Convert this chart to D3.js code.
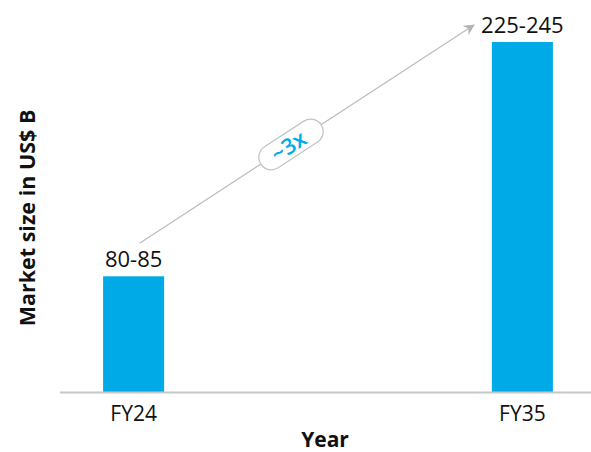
<!DOCTYPE html>
<html>
<head>
<meta charset="utf-8">
<script src="https://cdn.jsdelivr.net/npm/d3@7"></script>
<style>
  body { margin: 0; background: #fff; }
  text { font-family: "Open Sans", sans-serif; }
</style>
</head>
<body>
<svg width="591" height="452"></svg>
<script>
const width = 591;
const height = 452;

// chart data
const years = ["FY24", "FY35"];
const marketSize = [80, 242];
const rangeLabels = ["80-85", "225-245"];
const growthLabel = "~3x";

const svg = d3.select("svg");

const x = d3.scaleBand()
  .domain(years)
  .range([65, 591])
  .paddingInner(0.843)
  .paddingOuter(0.098);

const y = d3.scaleLinear()
  .domain([0, 242])
  .range([392, 42]);

const data = years.map((d, i) => ({ year: d, value: marketSize[i], label: rangeLabels[i] }));

// bars
svg.selectAll("rect.bar")
  .data(data)
  .enter().append("rect")
  .attr("class", "bar")
  .attr("x", d => x(d.year))
  .attr("y", d => y(d.value))
  .attr("width", x.bandwidth())
  .attr("height", d => y(0) - y(d.value))
  .style("fill", "#00aae6");

// baseline
svg.append("line")
  .attr("x1", 60).attr("x2", 591)
  .attr("y1", y(0) + 0.5).attr("y2", y(0) + 0.5)
  .style("stroke", "#c8c8c8")
  .style("stroke-width", 2);

// value labels
svg.selectAll("text.value")
  .data(data)
  .enter().append("text")
  .attr("class", "value")
  .attr("x", d => x(d.year) + x.bandwidth() / 2)
  .attr("y", d => y(d.value) - 9)
  .attr("text-anchor", "middle")
  .text(d => d.label)
  .style("font-size", "22px")
  .style("fill", "#111");

// x tick labels
svg.selectAll("text.tick")
  .data(data)
  .enter().append("text")
  .attr("class", "tick")
  .attr("x", d => x(d.year) + x.bandwidth() / 2)
  .attr("y", 421)
  .attr("text-anchor", "middle")
  .text(d => d.year)
  .style("font-size", "21px")
  .style("fill", "#111");

// axis titles
svg.append("text")
  .attr("x", 325).attr("y", 447)
  .attr("text-anchor", "middle")
  .text("Year")
  .style("font-size", "21px")
  .style("font-weight", "bold")
  .style("fill", "#111");

svg.append("text")
  .attr("transform", "translate(35,218) rotate(-90)")
  .attr("text-anchor", "middle")
  .text("Market size in US$ B")
  .style("font-size", "21.5px")
  .style("font-weight", "bold")
  .style("fill", "#111");

// growth arrow
const defs = svg.append("defs");
defs.append("marker")
  .attr("id", "arrow")
  .attr("viewBox", "0 0 10 10")
  .attr("refX", 9).attr("refY", 5)
  .attr("markerWidth", 11).attr("markerHeight", 11)
  .attr("markerUnits", "userSpaceOnUse")
  .attr("orient", "auto")
  .append("path")
  .attr("d", "M0,0 L10,5 L0,10 L3,5 Z")
  .style("fill", "#b4b4b4");

const x0 = x("FY24") + x.bandwidth() / 2 + 6, y0 = y(marketSize[0]) - 33;
const x1 = x("FY35") - 18, y1 = 25;

svg.append("line")
  .attr("x1", x0).attr("y1", y0)
  .attr("x2", x1).attr("y2", y1)
  .style("stroke", "#bdbdbd")
  .style("stroke-width", 1.3)
  .attr("marker-end", "url(#arrow)");

const angle = Math.atan2(y1 - y0, x1 - x0) * 180 / Math.PI;
const cx = 291, cy = y0 + (cx - x0) * (y1 - y0) / (x1 - x0);

const pill = svg.append("g")
  .attr("transform", `translate(${cx},${cy}) rotate(${angle})`);

pill.append("rect")
  .attr("x", -36).attr("y", -12.5)
  .attr("width", 72).attr("height", 25)
  .attr("rx", 12.5)
  .style("fill", "#fff")
  .style("stroke", "#c4c4c4")
  .style("stroke-width", 1.3);

pill.append("text")
  .attr("x", -3).attr("y", 8)
  .attr("text-anchor", "middle")
  .text(growthLabel)
  .style("font-size", "22px")
  .style("font-weight", "600")
  .style("fill", "#00aae6");
</script>
</body>
</html>
